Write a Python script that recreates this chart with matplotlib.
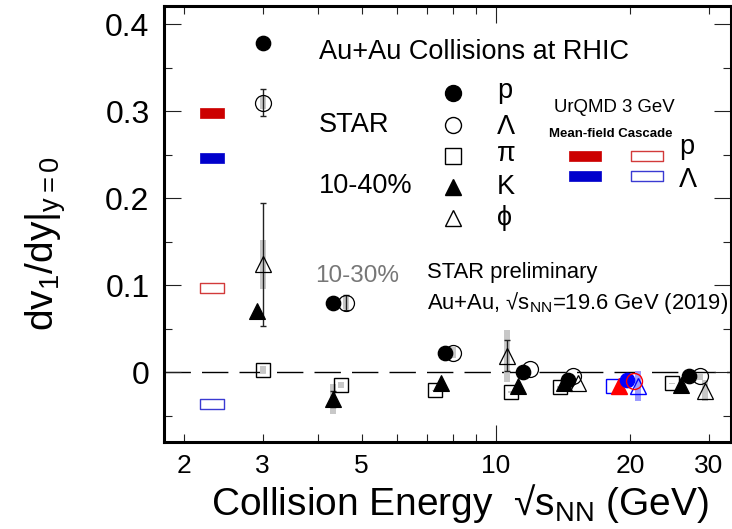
import numpy as np
import matplotlib
matplotlib.use('Agg')
import matplotlib.pyplot as plt
from matplotlib.path import Path
from matplotlib.ticker import FixedLocator, FixedFormatter, FuncFormatter

plt.rcParams['font.family'] = ['Liberation Sans', 'DejaVu Sans']
plt.rcParams['mathtext.fontset'] = 'custom'
plt.rcParams['mathtext.rm'] = 'Liberation Sans'
plt.rcParams['mathtext.it'] = 'Liberation Sans'
plt.rcParams['mathtext.bf'] = 'Liberation Sans:bold'
plt.rcParams['mathtext.sf'] = 'Liberation Sans'

# ---------------- data ----------------
p_x = [3.0, 4.31, 7.7, 11.5, 14.5, 27.0]
p_y = [0.378, 0.080, 0.0225, 0.0, -0.009, -0.005]

lam_x = [3.0, 4.62, 8.02, 11.9, 14.9, 28.6]
lam_y = [0.310, 0.080, 0.0225, 0.0035, -0.005, -0.005]
lam_stat = [0.016, 0.009, 0.0, 0.0, 0.0, 0.0]
lam_sys = [0.008, 0.007, 0.006, 0.0, 0.0, 0.004]

pi_x = [3.0, 4.5, 7.3, 10.8, 13.9, 24.8]
pi_y = [0.003, -0.0146, -0.021, -0.023, -0.017, -0.013]
pi_sys = [0.0035, 0.0035, 0.001, 0.001, 0.001, 0.001]

k_x = [2.91, 4.31, 7.52, 11.2, 14.2, 25.9]
k_y = [0.0705, -0.031, -0.0127, -0.016, -0.013, -0.0146]
k_stat = [0.0, 0.009, 0.0, 0.0, 0.0, 0.0]
k_sys = [0.0, 0.017, 0.0, 0.0, 0.0, 0.0]

phi_x = [3.0, 10.6, 15.3, 29.4]
phi_y = [0.124, 0.019, -0.013, -0.0215]
phi_stat = [0.071, 0.018, 0.0, 0.0]
phi_sys = [0.028, 0.030, 0.0, 0.012]

# 19.6 GeV (2019) data: pi, K, p, Lambda, phi
e19_x = [18.3, 18.9, 19.7, 20.4, 20.8]
e19_y = [-0.016, -0.016, -0.009, -0.0097, -0.016]
e19_phi_sys = 0.0175

# UrQMD 3 GeV
urqmd_x = 2.31
urqmd_labels = ['p', 'Λ']
urqmd_meanfield = [0.298, 0.246]
urqmd_cascade = [0.097, -0.037]

xlim = (1.8, 33.6)
ylim = (-0.08, 0.421)

# ---------------- figure ----------------
W, H = 732, 529
fig = plt.figure(figsize=(W / 100, H / 100), dpi=100)
ax = fig.add_axes([163.5 / W, 1 - 441.7 / H, (731 - 163.5) / W, (441.7 - 6) / H])

def fx(px):
    return px / W

def fy(py):
    return 1 - py / H

ax.set_xscale('log')
ax.set_xlim(*xlim)
ax.set_ylim(*ylim)

# zero line
ax.axhline(0, color='black', lw=1.0, dashes=(19, 8), zorder=1)

sys_col = '#c8c8c8'
sys_lw = 4.3

def draw_sys(xs, ys, ss, color=sys_col, lw=sys_lw):
    for x, y, s in zip(xs, ys, ss):
        if s > 0:
            ax.vlines(x, y - s, y + s, colors=color, lw=lw, capstyle='butt', zorder=2)

def draw_stat(xs, ys, es, color='#222222'):
    sel = [(x, y, e) for x, y, e in zip(xs, ys, es) if e > 0]
    if sel:
        xx, yy, ee = zip(*sel)
        ax.errorbar(xx, yy, yerr=ee, fmt='none', ecolor=color, elinewidth=1.0,
                    capsize=2.5, capthick=1.0, zorder=3)

draw_sys(lam_x, lam_y, lam_sys)
draw_sys(pi_x, pi_y, pi_sys)
draw_sys(k_x, k_y, k_sys)
draw_sys(phi_x, phi_y, phi_sys)
draw_sys([e19_x[4]], [e19_y[4]], [e19_phi_sys], color='#9b9bff')

draw_stat(lam_x, lam_y, lam_stat)
draw_stat(k_x, k_y, k_stat)
draw_stat(phi_x, phi_y, phi_stat)

ms_c = 10.3
ax.plot(pi_x, pi_y, 's', ms=10, mfc='none', mec='black', mew=1.0, zorder=4)
ax.plot(k_x, k_y, '^', ms=11, mfc='black', mec='black', mew=0.8, zorder=4)
ax.plot(phi_x, phi_y, '^', ms=11.5, mfc='none', mec='black', mew=0.9, zorder=4)
ax.plot(p_x, p_y, 'o', ms=ms_c, mfc='black', mec='black', zorder=5)
ax.plot(lam_x, lam_y, 'o', ms=11.5, mfc='none', mec='black', mew=0.9, zorder=5)

# 19.6 GeV colored points
ax.plot([e19_x[0]], [e19_y[0]], 's', ms=10, mfc='none', mec='blue', mew=1.0, zorder=4)
ax.plot([e19_x[1]], [e19_y[1]], '^', ms=11, mfc='red', mec='red', zorder=4)
ax.plot([e19_x[2]], [e19_y[2]], 'o', ms=ms_c, mfc='blue', mec='blue', zorder=5)
ax.plot([e19_x[3]], [e19_y[3]], 'o', ms=11.5, mfc='none', mec='red', mew=1.0, zorder=5)
ax.plot([e19_x[4]], [e19_y[4]], '^', ms=11.5, mfc='none', mec='blue', mew=1.0, zorder=4)

# UrQMD boxes
def rect_marker(aspect):
    verts = [(-aspect / 2, -0.5), (aspect / 2, -0.5), (aspect / 2, 0.5), (-aspect / 2, 0.5), (0, 0)]
    codes = [Path.MOVETO, Path.LINETO, Path.LINETO, Path.LINETO, Path.CLOSEPOLY]
    return Path(verts, codes)

box = rect_marker(2.3)
mf_cols = ['#cc0000', '#0000cc']
cas_cols = ['#d23a3a', '#3a3ad2']
for v, c in zip(urqmd_meanfield, mf_cols):
    ax.plot([urqmd_x], [v], marker=box, ms=16.6, mfc=c, mec=c, mew=0.5, ls='none', zorder=4)
for v, c in zip(urqmd_cascade, cas_cols):
    ax.plot([urqmd_x], [v], marker=box, ms=16.6, mfc='white', mec=c, mew=1.0, ls='none', zorder=4)

# ticks
ax.xaxis.set_major_locator(FixedLocator([10]))
ax.xaxis.set_minor_locator(FixedLocator([2, 3, 4, 5, 6, 7, 8, 9, 20, 30]))
ax.xaxis.set_major_formatter(FixedFormatter(['10']))
ax.xaxis.set_minor_formatter(FuncFormatter(lambda v, pos: ('%d' % round(v)) if round(v) in (2, 3, 5, 20, 30) else ''))
ax.yaxis.set_major_locator(FixedLocator([0, 0.1, 0.2, 0.3, 0.4]))
ax.yaxis.set_minor_locator(FixedLocator([-0.05, 0.05, 0.15, 0.25, 0.35]))
ax.yaxis.set_major_formatter(FuncFormatter(lambda v, pos: '0' if abs(v) < 1e-9 else '%.1f' % v))

ax.tick_params(which='both', direction='in', top=True, right=True, color='#222222', width=0.8)
ax.tick_params(which='major', length=12)
ax.tick_params(which='minor', length=6)
ax.tick_params(axis='y', which='both', labelsize=23, pad=10)
ax.tick_params(axis='x', which='both', labelsize=19, pad=9)
for s in ax.spines.values():
    s.set_linewidth(2.2)

# axis labels
fig.text(fx(45.5), fy(244), r'$\mathrm{dv_1/dy|_{y=0}}$', rotation=90, ha='center', va='center', fontsize=28)
fig.text(fx(460), fy(515), 'Collision Energy  \u221As$_{NN}$ (GeV)', ha='center', va='baseline', fontsize=28)

# annotations
fig.text(fx(319), fy(59), 'Au+Au Collisions at RHIC', fontsize=19.5, va='baseline')
fig.text(fx(319), fy(132), 'STAR', fontsize=19.5, va='baseline')
fig.text(fx(319), fy(193), '10-40%', fontsize=19.5, va='baseline')

leg_x = 453
leg_rows = [(93, 'o', 'black', 'p', 98), (125, 'o', 'none', 'Λ', 134), (156, 's', 'none', 'π', 161),
            (187, '^', 'black', 'K', 194), (218, '^', 'none', '\u03d5', 225)]
for yy, m, fc, lab, base in leg_rows:
    ax.plot([fx(leg_x)], [fy(yy)], marker=m, ms=11.5, mfc=fc, mec='black', mew=1.0,
            transform=fig.transFigure, clip_on=False, ls='none')
    fig.text(fx(497), fy(base), lab, fontsize=19.5, va='baseline')

fig.text(fx(554), fy(111.7), 'UrQMD 3 GeV', fontsize=13.4, va='baseline')
fig.text(fx(549), fy(136.7), 'Mean-field Cascade', fontsize=9.5, fontweight='bold', va='baseline')
lbox = rect_marker(3.3)
for i, (lab, cm, cc) in enumerate(zip(urqmd_labels, mf_cols, cas_cols)):
    yy = 155.5 + 20 * i
    ax.plot([fx(584.5)], [fy(yy)], marker=lbox, ms=22.5, mfc=cm, mec=cm, mew=0.5,
            transform=fig.transFigure, clip_on=False, ls='none')
    ax.plot([fx(646.5)], [fy(yy)], marker=lbox, ms=22.5, mfc='white', mec=cc, mew=1.0,
            transform=fig.transFigure, clip_on=False, ls='none')
    fig.text(fx(679), fy(154 + 33 * i), lab, fontsize=19.5, va='baseline')

fig.text(fx(315), fy(282.3), '10-30%', fontsize=17.5, color='#777777', va='baseline')
fig.text(fx(427), fy(278.3), 'STAR preliminary', fontsize=15.8, va='baseline')
fig.text(fx(427), fy(309.3), 'Au+Au, \u221As$_{NN}$=19.6 GeV (2019)', fontsize=15.8, va='baseline')

fig.savefig('out.png', dpi=100)
